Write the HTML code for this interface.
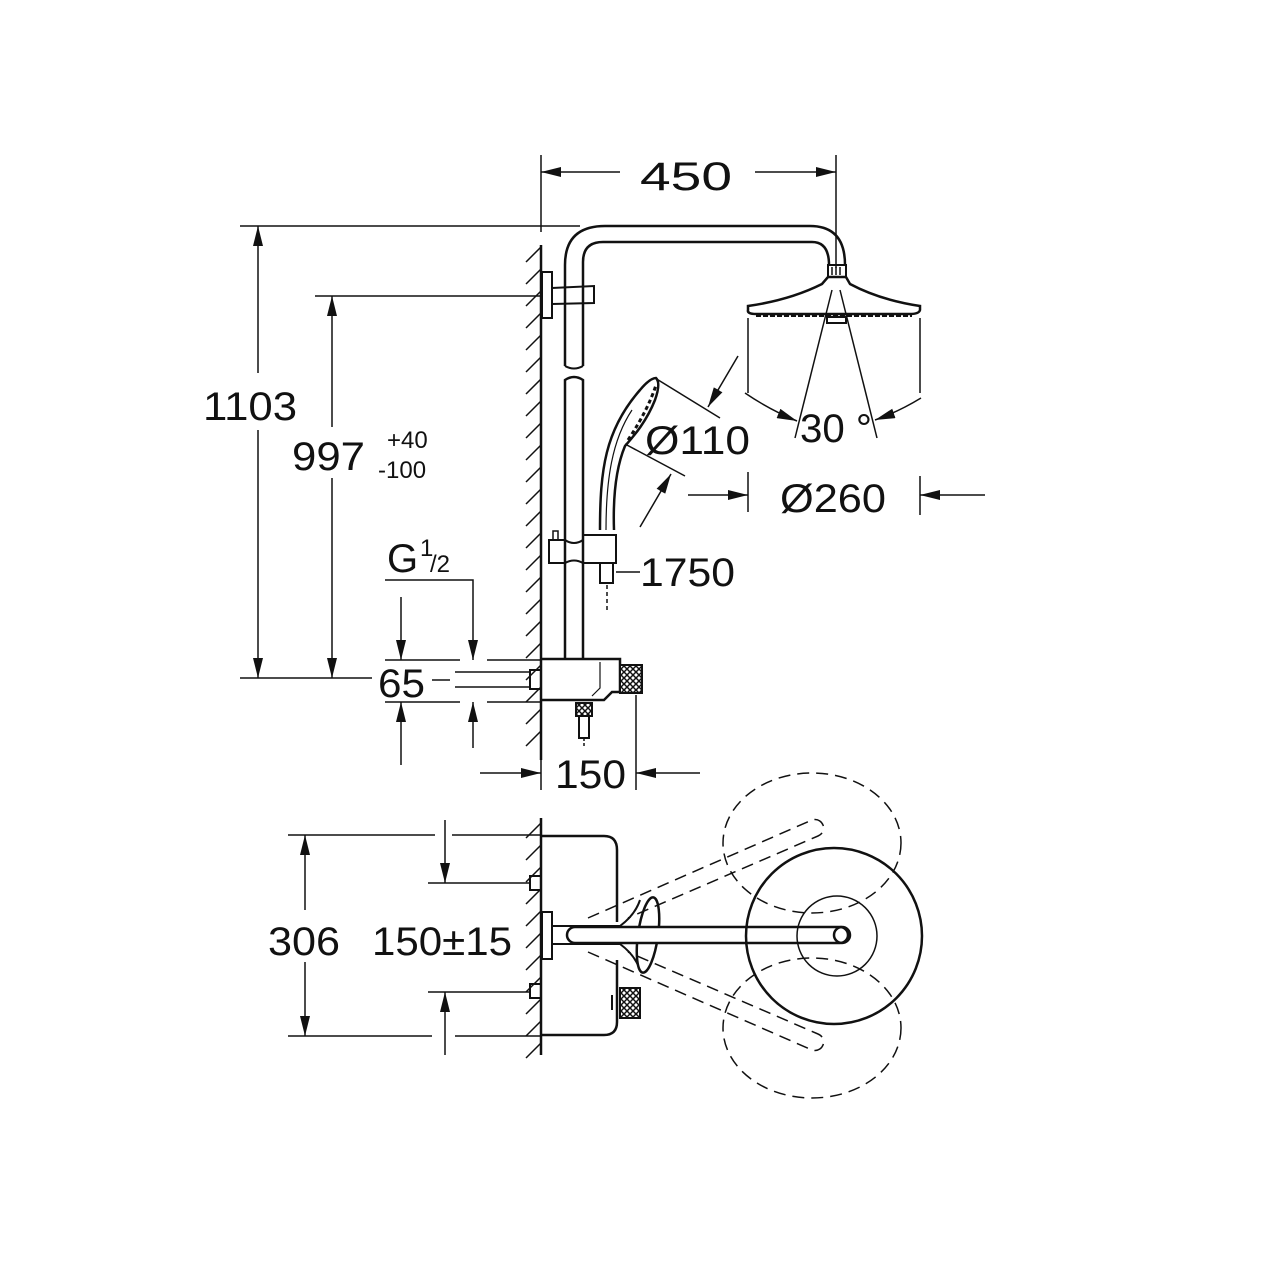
<!DOCTYPE html>
<html><head><meta charset="utf-8"><style>
html,body{margin:0;padding:0;background:#fff}
svg{display:block}
text{font-family:"Liberation Sans",sans-serif;fill:#111}
</style></head><body>
<svg width="1280" height="1280" viewBox="0 0 1280 1280" xmlns="http://www.w3.org/2000/svg">
<defs>
<marker id="a" viewBox="0 0 20 10" refX="20" refY="5" markerWidth="20" markerHeight="10" markerUnits="userSpaceOnUse" orient="auto"><path d="M0,0 L20,5 L0,10 z" fill="#111"/></marker>
<pattern id="hx" width="6" height="6" patternUnits="userSpaceOnUse"><rect width="6" height="6" fill="#fff"/><path d="M0,0 L6,6 M6,0 L0,6" stroke="#111" stroke-width="1.5"/></pattern>
</defs>
<g stroke="#111" fill="none" stroke-width="1.5">
<!-- 450 dim -->
<line x1="541" y1="155" x2="541" y2="232"/>
<line x1="836" y1="155" x2="836" y2="268"/>
<line x1="620" y1="172" x2="541" y2="172" marker-end="url(#a)"/>
<line x1="755" y1="172" x2="836" y2="172" marker-end="url(#a)"/>
<!-- 1103 / 997 -->
<line x1="240" y1="226" x2="580" y2="226"/>
<line x1="315" y1="296" x2="541" y2="296"/>
<line x1="240" y1="678" x2="372" y2="678"/>
<line x1="258" y1="373" x2="258" y2="226" marker-end="url(#a)"/>
<line x1="258" y1="430" x2="258" y2="678" marker-end="url(#a)"/>
<line x1="332" y1="427" x2="332" y2="296" marker-end="url(#a)"/>
<line x1="332" y1="478" x2="332" y2="678" marker-end="url(#a)"/>
<!-- wall top -->
<line x1="541" y1="245" x2="541" y2="760" stroke-width="2.5"/>
<path d="M526,262l15,-15 M526,284l15,-15 M526,306l15,-15 M526,328l15,-15 M526,350l15,-15 M526,372l15,-15 M526,394l15,-15 M526,416l15,-15 M526,438l15,-15 M526,460l15,-15 M526,482l15,-15 M526,504l15,-15 M526,526l15,-15 M526,548l15,-15 M526,570l15,-15 M526,592l15,-15 M526,614l15,-15 M526,636l15,-15 M526,658l15,-15 M526,680l15,-15 M526,702l15,-15 M526,724l15,-15 M526,746l15,-15"/>
<!-- pipe -->
<path d="M565,366 L565,265 Q565,226 605,226 L810,226 Q845,226 845,265" stroke-width="2.5"/>
<path d="M583,366 L583,262 Q583,242 603,242 L812,242 Q829,242 829,265" stroke-width="2.5"/>
<path d="M565,366 Q574,371 583,366" stroke-width="2"/>
<path d="M565,658 L565,380 Q574,374 583,380 L583,658" stroke-width="2.5"/>
<rect x="828" y="265" width="18" height="12" stroke-width="2"/>
<path d="M832,267v8 M836,267v8 M840,267v8"/>
<!-- wall bracket -->
<rect x="542" y="272" width="10" height="46" stroke-width="2"/>
<path d="M552,288 L594,286 L594,303 L552,304" stroke-width="2"/>
<!-- head -->
<path d="M828,277 L846,277 L850,284 Q880,300 920,306 L920,310 Q919,314 910,314 L756,314 Q747,314 748,310 L748,306 Q790,300 822,284 Z" stroke-width="2.5"/>
<path d="M756,316 L912,316" stroke-dasharray="5,2" stroke-width="2"/>
<rect x="827" y="317" width="19" height="6" stroke-width="2"/>
<line x1="748" y1="318" x2="748" y2="393"/>
<line x1="920" y1="318" x2="920" y2="393"/>
<line x1="832" y1="290" x2="795" y2="438"/>
<line x1="840" y1="290" x2="877" y2="438"/>
<path d="M745,393 Q770,410 797,421" marker-end="url(#a)"/>
<path d="M921,398 Q898,412 875,420" marker-end="url(#a)"/>
<!-- Ø260 -->
<line x1="688" y1="495" x2="748" y2="495" marker-end="url(#a)"/>
<line x1="985" y1="495" x2="920" y2="495" marker-end="url(#a)"/>
<line x1="748" y1="472" x2="748" y2="512"/>
<line x1="920" y1="476" x2="920" y2="515"/>
<!-- hand shower -->
<path d="M600,530 C600,470 605,430 640,390 Q650,378 656,378 Q661,383 655,400 C645,425 630,440 625,446 C615,470 613,500 614,530" stroke-width="2.5"/>
<path d="M628,440 Q648,410 656,385" stroke-width="3" stroke-dasharray="4,3"/>
<path d="M606,530 C606,480 612,440 632,410" stroke-width="1.2"/>
<line x1="655" y1="378" x2="720" y2="418"/>
<line x1="625" y1="444" x2="685" y2="476"/>
<line x1="738" y1="356" x2="708" y2="407" marker-end="url(#a)"/>
<line x1="640" y1="527" x2="671" y2="474" marker-end="url(#a)"/>
<!-- slider -->
<rect x="549" y="540" width="16" height="23" stroke-width="2"/>
<rect x="553" y="531" width="5" height="9" stroke-width="1.5"/>
<path d="M565,540 Q574,546 583,540 L583,563 Q574,558 565,563" stroke-width="2"/>
<rect x="583" y="535" width="33" height="28" stroke-width="2"/>
<rect x="600" y="563" width="13" height="20" stroke-width="2"/>
<line x1="616" y1="572" x2="640" y2="572"/>
<line x1="607" y1="585" x2="607" y2="612" stroke-dasharray="4,3"/>
<!-- G1/2 and 65 -->
<path d="M385,580 L473,580 L473,660" marker-end="url(#a)"/>
<line x1="401" y1="597" x2="401" y2="660" marker-end="url(#a)"/>
<line x1="385" y1="660" x2="460" y2="660"/>
<line x1="487" y1="660" x2="541" y2="660"/>
<line x1="385" y1="702" x2="460" y2="702"/>
<line x1="487" y1="702" x2="541" y2="702"/>
<line x1="455" y1="672" x2="530" y2="672"/>
<line x1="455" y1="687" x2="530" y2="687"/>
<line x1="432" y1="680" x2="450" y2="680"/>
<line x1="401" y1="765" x2="401" y2="702" marker-end="url(#a)"/>
<line x1="473" y1="748" x2="473" y2="702" marker-end="url(#a)"/>
<rect x="530" y="670" width="11" height="19" stroke-width="2"/>
<!-- mixer -->
<path d="M541,659 L620,659 L620,692 L612,692 L604,700 L541,700" stroke-width="2.5"/>
<path d="M600,662 L600,688 L592,696" stroke-width="1.2"/>
<rect x="620" y="665" width="22" height="28" fill="url(#hx)" stroke-width="2"/>
<rect x="576" y="703" width="16" height="13" fill="url(#hx)" stroke-width="2"/>
<rect x="579" y="716" width="10" height="22" stroke-width="2"/>
<line x1="584" y1="738" x2="584" y2="748" stroke-dasharray="3,2"/>
<!-- 150 -->
<line x1="541" y1="700" x2="541" y2="790"/>
<line x1="636" y1="695" x2="636" y2="790"/>
<line x1="480" y1="773" x2="541" y2="773" marker-end="url(#a)"/>
<line x1="700" y1="773" x2="636" y2="773" marker-end="url(#a)"/>

<!-- bottom view -->
<line x1="541" y1="818" x2="541" y2="1055" stroke-width="2.5"/>
<path d="M526,838l15,-15 M526,860l15,-15 M526,882l15,-15 M526,904l15,-15 M526,926l15,-15 M526,948l15,-15 M526,970l15,-15 M526,992l15,-15 M526,1014l15,-15 M526,1036l15,-15 M526,1058l15,-15"/>
<line x1="288" y1="835" x2="435" y2="835"/>
<line x1="452" y1="835" x2="541" y2="835"/>
<line x1="288" y1="1036" x2="432" y2="1036"/>
<line x1="455" y1="1036" x2="541" y2="1036"/>
<line x1="428" y1="883" x2="530" y2="883"/>
<line x1="428" y1="992" x2="530" y2="992"/>
<line x1="305" y1="910" x2="305" y2="835" marker-end="url(#a)"/>
<line x1="305" y1="962" x2="305" y2="1036" marker-end="url(#a)"/>
<line x1="445" y1="820" x2="445" y2="883" marker-end="url(#a)"/>
<line x1="445" y1="1055" x2="445" y2="992" marker-end="url(#a)"/>
<rect x="530" y="876" width="11" height="14" stroke-width="2"/>
<rect x="530" y="984" width="11" height="14" stroke-width="2"/>
<path d="M541,836 L604,836 Q617,836 617,850 L617,922" stroke-width="2.5"/>
<path d="M617,960 L617,1022 Q617,1035 604,1035 L541,1035" stroke-width="2.5"/>
<rect x="620" y="988" width="20" height="30" fill="url(#hx)" stroke-width="2"/>
<line x1="612" y1="995" x2="612" y2="1010" stroke-width="2"/>
<rect x="542" y="912" width="10" height="47" stroke-width="2"/>
<path d="M552,926 L620,926 Q635,915 640,900" stroke-width="2"/>
<path d="M552,944 L620,944 Q635,955 640,970" stroke-width="2"/>
<ellipse cx="648" cy="935" rx="10" ry="38" transform="rotate(8 648 935)" fill="#fff" stroke-width="2.5"/>
<path d="M575,927 L840,927 A8,8 0 0 1 840,943 L575,943 A8,8 0 0 1 575,927 Z" fill="#fff" stroke-width="2.5"/>
<circle cx="834" cy="936" r="88" stroke-width="2.5"/>
<circle cx="837" cy="936" r="40" stroke-width="1.5"/>
<circle cx="842" cy="935" r="8" stroke-width="2.5"/>
<g stroke-dasharray="12,7" stroke-width="1.5">
<ellipse cx="812" cy="843" rx="89" ry="70"/>
<ellipse cx="812" cy="1028" rx="89" ry="70"/>
<path d="M588,918 L812,820 A8,8 0 0 1 818,836 L628,918"/>
<path d="M588,952 L812,1050 A8,8 0 0 0 818,1034 L628,952"/>
</g>
</g>
<g font-size="40">
<text x="640" y="190" textLength="92" lengthAdjust="spacingAndGlyphs">450</text>
<text x="203" y="420" textLength="94" lengthAdjust="spacingAndGlyphs">1103</text>
<text x="292" y="470" textLength="73" lengthAdjust="spacingAndGlyphs">997</text>
<text x="387" y="448" font-size="24">+40</text>
<text x="378" y="478" font-size="24">-100</text>
<text x="645" y="454" textLength="105" lengthAdjust="spacingAndGlyphs">Ø110</text>
<text x="800" y="442" textLength="72" lengthAdjust="spacingAndGlyphs">30 °</text>
<text x="780" y="512" textLength="106" lengthAdjust="spacingAndGlyphs">Ø260</text>
<text x="640" y="586" textLength="95" lengthAdjust="spacingAndGlyphs">1750</text>
<text x="387" y="572">G</text>
<text x="420" y="556" font-size="24">1</text>
<text x="430" y="572" font-size="24">/2</text>
<text x="378" y="697" textLength="47" lengthAdjust="spacingAndGlyphs">65</text>
<text x="555" y="788" textLength="71" lengthAdjust="spacingAndGlyphs">150</text>
<text x="268" y="955" textLength="72" lengthAdjust="spacingAndGlyphs">306</text>
<text x="372" y="955" textLength="140" lengthAdjust="spacingAndGlyphs">150±15</text>
</g>
</svg>
</body></html>
